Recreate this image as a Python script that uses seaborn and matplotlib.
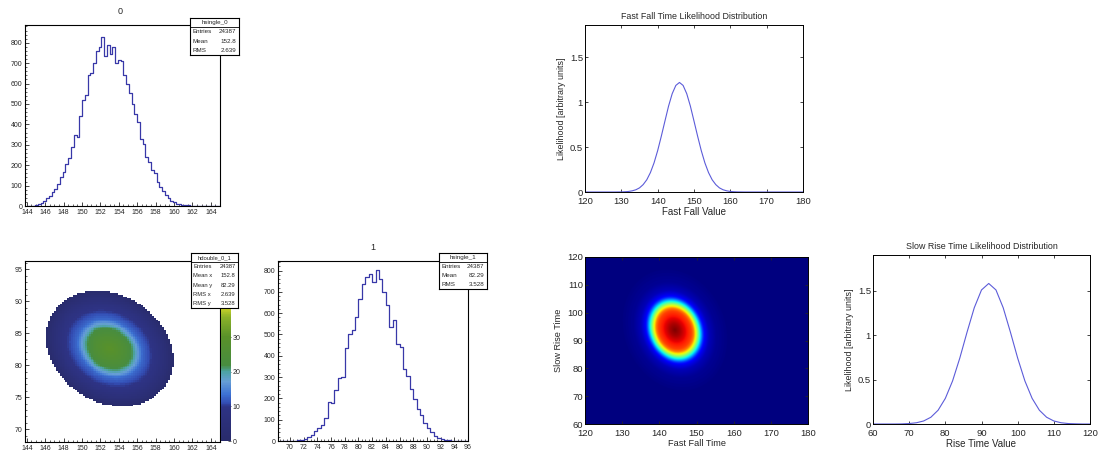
import numpy as np
import pandas as pd
import matplotlib
matplotlib.use("Agg")
import matplotlib.pyplot as plt
import seaborn as sns
from matplotlib.colors import LinearSegmentedColormap
from matplotlib.ticker import MultipleLocator

# ---------------- data ----------------
n_entries = 24387

# hsingle_0 : counts per bin (bins of 0.3 from 144.0)
h0_lo, h0_width = 144.0, 0.3
h0_counts = [0, 1, 2, 5, 8, 15, 25, 38, 50, 70,
             85, 110, 140, 165, 205, 235, 290, 350, 340, 440,
             520, 545, 640, 650, 700, 760, 780, 830, 735, 790,
             745, 780, 700, 715, 710, 640, 600, 555, 500, 450,
             410, 330, 305, 240, 215, 175, 160, 120, 95, 75,
             55, 40, 25, 18, 12, 8, 6, 4, 3, 2,
             1, 1, 0, 1, 0, 0, 0, 0, 0, 0]

# hsingle_1 : counts per bin (bins of 0.5 from 68.5)
h1_lo, h1_width = 68.5, 0.5
h1_counts = [0, 0, 1, 1, 2, 3, 6, 10, 18, 28,
             45, 60, 75, 110, 185, 180, 240, 295, 300, 435,
             500, 520, 580, 665, 735, 770, 785, 745, 805, 760,
             700, 640, 535, 570, 455, 440, 340, 305, 245, 195,
             150, 120, 85, 60, 40, 25, 15, 8, 5, 3,
             2, 1, 1, 0, 0]

stats0 = [("Entries", "24387"), ("Mean", "152.8"), ("RMS", "2.639")]
stats01 = [("Entries", "24387"), ("Mean x", "152.8"), ("Mean y", "82.29"),
           ("RMS x", "2.639"), ("RMS y", "3.528")]
stats1 = [("Entries", "24387"), ("Mean", "82.29"), ("RMS", "3.528")]

# hdouble_0_1 : bin content vs. elliptical radius of the colour bands
b_ring_r = [0.0, 0.25, 0.38, 0.45, 0.52, 0.62, 0.72, 0.85, 0.95, 1.0, 1.03, 1.1, 10.0]
b_ring_count = [30, 25, 21, 17, 13, 11, 9.5, 6, 3, 1.2, 0.4, 0, 0]
b_center = (153.0, 82.6)
b_axes = (6.6, 8.8)
b_shear = -0.15

# Fast fall likelihood curve
ff_x = [120, 122, 124, 126, 128, 130, 131, 132, 133, 134, 135, 136, 137, 138, 139,
        140, 141, 142, 143, 144, 145, 146, 147, 148, 149, 150, 151, 152, 153,
        154, 155, 156, 157, 158, 159, 160, 161, 162, 164, 166, 170, 175, 180]
ff_like = [0, 0, 0, 0, 0, 0.001, 0.003, 0.006, 0.013, 0.025, 0.046, 0.082, 0.136,
           0.216, 0.324, 0.461, 0.621, 0.79, 0.957, 1.095, 1.187, 1.22, 1.187,
           1.095, 0.957, 0.79, 0.621, 0.461, 0.324, 0.216, 0.136, 0.082, 0.046,
           0.025, 0.013, 0.006, 0.003, 0.001, 0, 0, 0, 0, 0]

# Slow rise likelihood curve
sr_x = [60, 62, 64, 66, 68, 70, 72, 74, 76, 78, 80, 82, 84, 86, 88, 90, 92,
        94, 96, 98, 100, 102, 104, 106, 108, 110, 112, 114, 116, 118, 120]
sr_like = [0, 0, 0, 0, 0.001, 0.005, 0.014, 0.034, 0.076, 0.155, 0.288, 0.484,
           0.741, 1.032, 1.307, 1.507, 1.58, 1.507, 1.307, 1.032, 0.741, 0.484,
           0.288, 0.155, 0.076, 0.034, 0.014, 0.005, 0.002, 0, 0]

# 2-D likelihood map: colour level vs. elliptical radius of the rings
ring_r = [0.0, 0.2, 0.4, 0.6, 0.68, 0.76, 0.84, 0.9, 0.96, 1.02, 1.1, 1.25, 1.5, 2.0, 10.0]
ring_level = [1.0, 0.96, 0.9, 0.84, 0.78, 0.64, 0.5, 0.38, 0.28, 0.18, 0.1, 0.05, 0.02, 0.0, 0.0]
blob_center = (144.2, 93.8)
blob_axes = (7.3, 11.4)
blob_shear = -0.1

# ---------------- style ----------------
sns.set_style("white")
plt.rcParams["font.family"] = ["Liberation Sans", "DejaVu Sans"]
plt.rcParams["xtick.direction"] = "in"
plt.rcParams["ytick.direction"] = "in"

W, H = 1098, 459
fig = plt.figure(figsize=(W / 100, H / 100), dpi=100)
fig.patch.set_facecolor("white")


def rect(l, t, r, b):
    return [l / W, 1 - b / H, (r - l) / W, (b - t) / H]


root_blue = (0.22, 0.22, 0.66)
root_fs = 5.0


def root_axes(ax):
    for s in ax.spines.values():
        s.set_visible(True)
        s.set_color("black")
        s.set_linewidth(0.8)
    ax.tick_params(axis="both", which="major", length=3, width=0.6, labelsize=root_fs,
                   direction="in", bottom=True, left=True, top=False, right=False, pad=2)
    ax.tick_params(axis="both", which="minor", length=1.5, width=0.5,
                   direction="in", bottom=True, left=True, top=False, right=False)
    ax.set_xlabel("")
    ax.set_ylabel("")


def stats_box(r, name, rows, fs=4.5):
    bax = fig.add_axes(rect(*r))
    bax.set_facecolor("white")
    bax.set_xlim(0, 1)
    bax.set_ylim(0, 1)
    bax.set_xticks([])
    bax.set_yticks([])
    for s in bax.spines.values():
        s.set_visible(True)
        s.set_color("black")
        s.set_linewidth(0.8)
    n = len(rows) + 1
    h = 1.0 / n
    bax.text(0.5, 1 - h / 2, name, ha="center", va="center", fontsize=fs)
    bax.axhline(1 - h, color="black", lw=0.6)
    for i, (k, v) in enumerate(rows):
        y = 1 - h * (i + 1.5)
        bax.text(0.05, y, k, ha="left", va="center", fontsize=fs)
        bax.text(0.95, y, v, ha="right", va="center", fontsize=fs)


def mat_axes(ax):
    for s in ax.spines.values():
        s.set_visible(True)
        s.set_color("black")
        s.set_linewidth(0.7)
    ax.tick_params(axis="both", which="major", length=2.5, width=0.6, labelsize=6.8,
                   direction="in", bottom=True, left=True, top=True, right=True)
    ax.tick_params(axis="x", pad=3.5)
    ax.tick_params(axis="y", pad=1.5)


# ---------------- hsingle_0 ----------------
h0_edges = h0_lo + h0_width * np.arange(len(h0_counts) + 1)
h0_centers = (h0_edges[:-1] + h0_edges[1:]) / 2
df0 = pd.DataFrame({"x": h0_centers, "w": np.array(h0_counts, float)})
axA = fig.add_axes(rect(25, 25, 220, 206))
sns.histplot(data=df0, x="x", weights="w", bins=list(h0_edges), element="step",
             fill=False, color=root_blue, linewidth=0.9, ax=axA)
axA.set_xlim(143.8, 165.0)
axA.set_ylim(0, 887)
axA.xaxis.set_major_locator(MultipleLocator(2))
axA.xaxis.set_minor_locator(MultipleLocator(0.5))
axA.yaxis.set_major_locator(MultipleLocator(100))
axA.yaxis.set_minor_locator(MultipleLocator(20))
root_axes(axA)
fig.text(120 / W, 1 - 12 / H, "0", ha="center", va="center", fontsize=6.5)
stats_box((190, 18, 239, 55), "hsingle_0", stats0)

# ---------------- hdouble_0_1 ----------------
bx_edges = np.linspace(144.0, 165.0, 101)
by_edges = np.linspace(68.3, 96.0, 101)
bxc = (bx_edges[:-1] + bx_edges[1:]) / 2
byc = (by_edges[:-1] + by_edges[1:]) / 2
BX, BY = np.meshgrid(bxc, byc)
bcx, bcy = b_center
bra, brb = b_axes
b_r = np.hypot((BX - (bcx + b_shear * (BY - bcy))) / bra, (BY - bcy) / brb)
b_cells = np.interp(b_r, b_ring_r, b_ring_count)
df01 = pd.DataFrame({"x": BX.ravel(), "y": BY.ravel(), "w": b_cells.ravel()})
root_cmap = LinearSegmentedColormap.from_list("rootpal", [
    (0.0, (0.16, 0.17, 0.42)),
    (0.19, (0.18, 0.20, 0.52)),
    (0.21, (0.20, 0.30, 0.70)),
    (0.26, (0.24, 0.45, 0.83)),
    (0.33, (0.40, 0.62, 0.84)),
    (0.385, (0.30, 0.64, 0.64)),
    (0.42, (0.28, 0.55, 0.25)),
    (0.58, (0.35, 0.57, 0.16)),
    (0.69, (0.55, 0.70, 0.16)),
    (0.74, (0.80, 0.83, 0.16)),
    (1.0, (0.95, 0.90, 0.12)),
])
axB = fig.add_axes(rect(25, 261, 220, 442))
caxB = fig.add_axes(rect(221, 261, 231, 441))
sns.histplot(data=df01, x="x", y="y", weights="w",
             bins=[list(bx_edges), list(by_edges)], thresh=0.5, cmap=root_cmap,
             vmin=0, vmax=52, cbar=True, cbar_ax=caxB, ax=axB)
axB.set_xlim(143.8, 165.0)
axB.set_ylim(68.0, 96.3)
axB.xaxis.set_major_locator(MultipleLocator(2))
axB.xaxis.set_minor_locator(MultipleLocator(0.5))
axB.yaxis.set_major_locator(MultipleLocator(5))
axB.yaxis.set_minor_locator(MultipleLocator(1))
root_axes(axB)
caxB.yaxis.set_ticks_position("right")
caxB.set_yticks([0, 10, 20, 30])
caxB.tick_params(labelsize=root_fs, length=2, width=0.5, pad=1, direction="in")
caxB.minorticks_off()
for s in caxB.spines.values():
    s.set_visible(False)
stats_box((191, 253, 238, 308), "hdouble_0_1", stats01, fs=4.2)

# ---------------- hsingle_1 ----------------
h1_edges = h1_lo + h1_width * np.arange(len(h1_counts) + 1)
h1_centers = (h1_edges[:-1] + h1_edges[1:]) / 2
df1 = pd.DataFrame({"x": h1_centers, "w": np.array(h1_counts, float)})
axC = fig.add_axes(rect(278, 261, 468, 441))
sns.histplot(data=df1, x="x", weights="w", bins=list(h1_edges), element="step",
             fill=False, color=root_blue, linewidth=0.9, ax=axC)
axC.set_xlim(68.25, 96.0)
axC.set_ylim(0, 845)
axC.xaxis.set_major_locator(MultipleLocator(2))
axC.xaxis.set_minor_locator(MultipleLocator(0.5))
axC.yaxis.set_major_locator(MultipleLocator(100))
axC.yaxis.set_minor_locator(MultipleLocator(20))
root_axes(axC)
fig.text(373 / W, 1 - 247 / H, "1", ha="center", va="center", fontsize=6.5)
stats_box((439, 253, 487, 289), "hsingle_1", stats1)

# ---------------- Fast fall likelihood ----------------
mat_line = (0.36, 0.36, 0.85)
axD = fig.add_axes(rect(585, 25, 803, 192))
sns.lineplot(x=ff_x, y=ff_like, color=mat_line, linewidth=0.8, ax=axD)
axD.set_xlim(120, 180)
axD.set_ylim(0, 1.86)
axD.set_xticks([120, 130, 140, 150, 160, 170, 180])
axD.set_yticks([0, 0.5, 1, 1.5])
axD.set_yticklabels(["0", "0.5", "1", "1.5"])
mat_axes(axD)
axD.set_title("Fast Fall Time Likelihood Distribution", fontsize=6.4, pad=4)
axD.set_xlabel("Fast Fall Value", fontsize=7, labelpad=1)
axD.set_ylabel("Likelihood [arbitrary units]", fontsize=6.4, labelpad=3)

# ---------------- 2-D likelihood map ----------------
axE = fig.add_axes(rect(585, 257, 808, 424))
gx = np.linspace(120, 180, 480)
gy = np.linspace(60, 120, 480)
GX, GY = np.meshgrid(gx, gy)
cx, cy = blob_center
ea, eb = blob_axes
rr = np.hypot((GX - (cx + blob_shear * (GY - cy))) / ea, (GY - cy) / eb)
Z = np.interp(rr, ring_r, ring_level)
axE.imshow(Z, extent=[120, 180, 60, 120], origin="lower", cmap="jet", vmin=0, vmax=1,
           aspect="auto", interpolation="bilinear")
axE.set_xlim(120, 180)
axE.set_ylim(60, 120)
axE.set_xticks([120, 130, 140, 150, 160, 170, 180])
axE.set_yticks([60, 70, 80, 90, 100, 110, 120])
mat_axes(axE)
axE.set_xlabel("Fast Fall Time", fontsize=6.6, labelpad=1)
axE.set_ylabel("Slow Rise Time", fontsize=6.6, labelpad=3)

# ---------------- Slow rise likelihood ----------------
axF = fig.add_axes(rect(873, 255, 1090, 424))
sns.lineplot(x=sr_x, y=sr_like, color=mat_line, linewidth=0.8, ax=axF)
axF.set_xlim(60, 120)
axF.set_ylim(0, 1.9)
axF.set_xticks([60, 70, 80, 90, 100, 110, 120])
axF.set_yticks([0, 0.5, 1, 1.5])
axF.set_yticklabels(["0", "0.5", "1", "1.5"])
mat_axes(axF)
axF.set_title("Slow Rise Time Likelihood Distribution", fontsize=6.4, pad=4)
axF.set_xlabel("Rise Time Value", fontsize=7, labelpad=1)
axF.set_ylabel("Likelihood [arbitrary units]", fontsize=6.4, labelpad=3)

fig.savefig("out.png", dpi=100)
